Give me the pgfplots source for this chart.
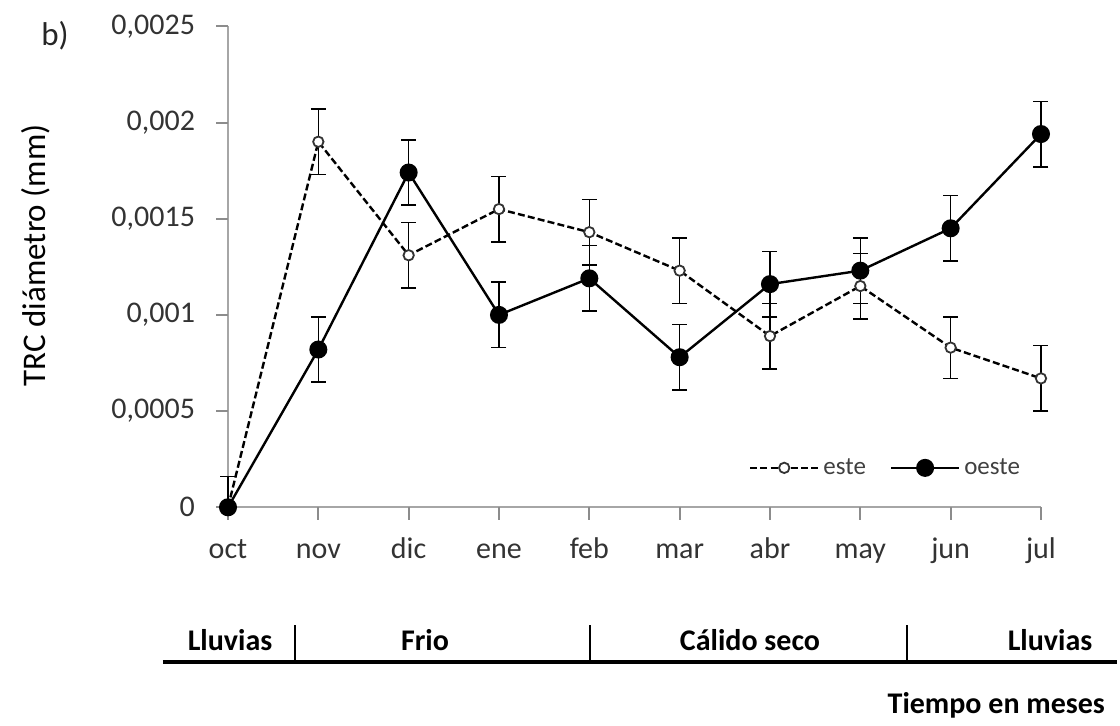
\documentclass[border=0pt]{standalone}
\usepackage{pgfplots}
\pgfplotsset{compat=1.18}
\usepackage{fontspec}
\setmainfont{Carlito}
\begin{document}
\begin{tikzpicture}
\useasboundingbox (-114pt,-108.85pt) rectangle (446pt,253.65pt);
\begin{axis}[
  scale only axis, width=406.5pt, height=240.5pt,
  at={(0pt,0pt)}, anchor=south west,
  xmin=0, xmax=9, ymin=0, ymax=0.0025,
  axis x line*=bottom, axis y line*=left,
  axis line style={draw=black!35, line width=1pt},
  xtick={0,1,2,3,4,5,6,7,8,9},
  xticklabels={oct,nov,dic,ene,feb,mar,abr,may,jun,jul},
  ytick={0,0.0005,0.001,0.0015,0.002,0.0025},
  yticklabels={{0},{0,0005},{0,001},{0,0015},{0,002},{0,0025}},
  scaled y ticks=false,
  major tick length=0pt,
  ticklabel style={font=\fontsize{15}{18}\selectfont, text=black!80},
  xticklabel style={text height=11pt, text depth=3pt, anchor=north, yshift=-11pt},
  yticklabel style={xshift=-13pt},
  ylabel={TRC diámetro (mm)},
  ylabel style={at={(axis description cs:-0.237,0.524)}, anchor=center, font=\fontsize{16.5}{20}\selectfont, text=black},
  clip=false,
  legend style={at={(axis description cs:0.81,0.082)}, anchor=center, draw=none, fill=none,
    font=\fontsize{12.5}{15}\selectfont, text=black!75,
    /tikz/every even column/.append style={column sep=10pt}},
  legend columns=2,
  legend image code/.code={\draw[mark repeat=2,mark phase=2] plot coordinates {(0pt,0pt) (17pt,0pt) (34pt,0pt)};},
  error bars/error bar style={line width=0.8pt, black, solid},
  error bars/error mark options={rotate=90, mark size=3.75pt, line width=0.8pt, black, solid},
]
% tick marks
\pgfplotsinvokeforeach{0,1,2,3,4,5,6,7,8,9}{\draw[black!45, line width=1pt] (axis cs:#1,0) -- ++(0pt,-6.5pt);}
\pgfplotsinvokeforeach{0,0.0005,0.001,0.0015,0.002,0.0025}{\draw[black!45, line width=1pt] (axis cs:0,#1) -- ++(-6pt,0pt);}
\addplot[black, line width=1.2pt, dash pattern=on 3.5pt off 1.6pt,
  mark=*, mark size=2.6pt, mark options={solid, fill=white, draw=black!80, line width=0.9pt},
  error bars/.cd, y dir=both, y explicit]
coordinates {
 (0,0) += (0,0.00016) -= (0,0)
 (1,0.00190) +- (0,0.00017)
 (2,0.00131) +- (0,0.00017)
 (3,0.00155) +- (0,0.00017)
 (4,0.00143) +- (0,0.00017)
 (5,0.00123) +- (0,0.00017)
 (6,0.00089) +- (0,0.00017)
 (7,0.00115) +- (0,0.00017)
 (8,0.00083) +- (0,0.00016)
 (9,0.00067) +- (0,0.00017)
};
\addlegendentry{este}
\addplot[black, line width=1.2pt,
  mark=*, mark size=3.9pt, mark options={solid, fill=black},
  error bars/.cd, y dir=both, y explicit]
coordinates {
 (0,0) +- (0,0)
 (1,0.00082) +- (0,0.00017)
 (2,0.00174) +- (0,0.00017)
 (3,0.00100) +- (0,0.00017)
 (4,0.00119) +- (0,0.00017)
 (5,0.00078) +- (0,0.00017)
 (6,0.00116) +- (0,0.00017)
 (7,0.00123) +- (0,0.00017)
 (8,0.00145) +- (0,0.00017)
 (9,0.00194) +- (0,0.00017)
};
\addlegendentry{oeste}
\end{axis}
% panel letter
\node[font=\fontsize{16.5}{20}\selectfont, text=black!85] at (-86.5pt,236pt) {b)};
% seasons bar
\draw[line width=1.6pt] (-32.5pt,-77.35pt) -- (444.5pt,-77.35pt);
\foreach \xx in {33.5,181,339.5} {\draw[line width=1.1pt] (\xx pt,-77.35pt) -- (\xx pt,-58.85pt);}
\begin{scope}[every node/.style={font=\fontsize{15}{18}\selectfont\bfseries, anchor=center}]
\node at (1pt,-66.35pt) {Lluvias};
\node at (98.5pt,-66.35pt) {Frio};
\node at (261pt,-66.35pt) {Cálido seco};
\node at (411pt,-66.35pt) {Lluvias};
\node[anchor=east] at (442pt,-98.85pt) {Tiempo en meses};
\end{scope}
\end{tikzpicture}
\end{document}
